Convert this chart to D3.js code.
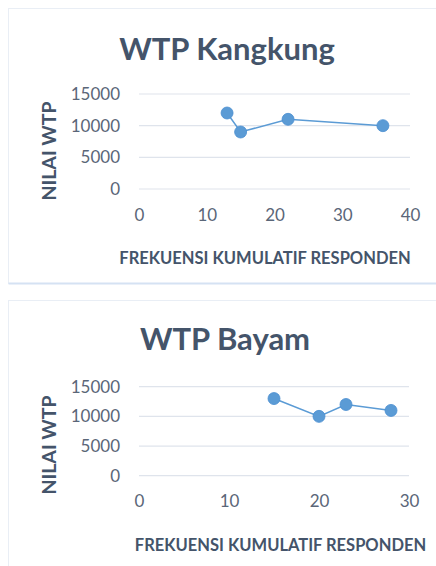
<!DOCTYPE html>
<html><head><meta charset="utf-8">
<script src="https://cdn.jsdelivr.net/npm/d3@7"></script>
<style>html,body{margin:0;padding:0;background:#fff;}</style>
</head><body>
<svg id="c" width="436" height="566"></svg>
<script>
const kangkungX = [13, 15, 22, 36];
const kangkungY = [12000, 9000, 11000, 10000];
const bayamX = [15, 20, 23, 28];
const bayamY = [13000, 10000, 12000, 11000];
const yTicks = [0, 5000, 10000, 15000];
const kangkungXTicks = [0, 10, 20, 30, 40];
const bayamXTicks = [0, 10, 20, 30];
const titles = ["WTP Kangkung", "WTP Bayam"];
const yTitle = "NILAI WTP";
const xTitle = "FREKUENSI KUMULATIF RESPONDEN";

const svg = d3.select("#c");
const textCol = "#44546a", tickCol = "#5a6678", lineCol = "#5b9bd5", gridCol = "#dfe4ec";
const font = "Lato, 'Open Sans', sans-serif";

function panel(cfg){
  const g = svg.append("g");
  g.append("rect").attr("x", cfg.fx).attr("y", cfg.fy).attr("width", cfg.fw).attr("height", cfg.fh)
    .attr("fill", "none").attr("stroke", "#e9eef5").attr("stroke-width", 1);
  if (cfg.bottomLine) g.append("line").attr("x1", cfg.fx).attr("x2", cfg.fx + cfg.fw).attr("y1", cfg.fy + cfg.fh).attr("y2", cfg.fy + cfg.fh)
    .attr("stroke", "#d5e2f3").attr("stroke-width", 2);
  const x = d3.scaleLinear().domain(cfg.xDomain).range([139, cfg.xRight]);
  const y = d3.scaleLinear().domain([0, 15000]).range([cfg.y0, cfg.y15]);
  g.selectAll(".grid").data(yTicks).join("line")
    .attr("x1", x.range()[0]).attr("x2", x.range()[1])
    .attr("y1", d => y(d)).attr("y2", d => y(d))
    .attr("stroke", gridCol).attr("stroke-width", 1.2);
  const ya = d3.axisLeft(y).tickValues(yTicks).tickFormat(d3.format("d")).tickSize(0).tickPadding(19);
  const yg = g.append("g").attr("transform", `translate(139,0)`).call(ya);
  yg.select(".domain").remove();
  yg.selectAll("text").attr("font-family", font).attr("font-size", 17).attr("fill", tickCol);
  const xa = d3.axisBottom(x).tickValues(cfg.xTicks).tickFormat(d3.format("d")).tickSize(0).tickPadding(cfg.xPad);
  const xg = g.append("g").attr("transform", `translate(0,${cfg.y0})`).call(xa);
  xg.select(".domain").remove();
  xg.selectAll("text").attr("font-family", font).attr("font-size", 17).attr("fill", tickCol);
  const pts = cfg.xs.map((v, i) => [v, cfg.ys[i]]);
  g.append("path").datum(pts)
    .attr("d", d3.line().x(d => x(d[0])).y(d => y(d[1])))
    .attr("fill", "none").attr("stroke", lineCol).attr("stroke-width", 1.5);
  g.selectAll(".pt").data(pts).join("circle")
    .attr("cx", d => x(d[0])).attr("cy", d => y(d[1])).attr("r", 6)
    .attr("fill", lineCol).attr("stroke", "#4a8ed0").attr("stroke-width", 0.8);
  g.append("text").attr("x", cfg.tx).attr("y", cfg.ty).attr("text-anchor", "middle")
    .attr("font-family", font).attr("font-weight", "bold").attr("font-size", 31).attr("fill", textCol)
    .text(cfg.title);
  g.append("text").attr("transform", `translate(${56},${cfg.ylc}) rotate(-90)`).attr("text-anchor", "middle")
    .attr("font-family", font).attr("font-weight", "bold").attr("font-size", 19.5).attr("fill", textCol)
    .text(yTitle);
  g.append("text").attr("x", cfg.xlx).attr("y", cfg.xly).attr("text-anchor", "middle")
    .attr("font-family", font).attr("font-weight", "bold").attr("font-size", 16.5).attr("fill", textCol)
    .text(xTitle);
}

panel({fx: 8.5, fy: 8.5, fw: 440, fh: 275, bottomLine: true,
  xDomain: [0, 40], xRight: 410, xTicks: kangkungXTicks, y0: 189, y15: 94, xPad: 20,
  xs: kangkungX, ys: kangkungY, title: titles[0], tx: 227, ty: 60, ylc: 151, xlx: 265, xly: 264});
panel({fx: 8.5, fy: 300.5, fw: 440, fh: 300, bottomLine: false,
  xDomain: [0, 30], xRight: 409, xTicks: bayamXTicks, y0: 475.7, y15: 386.7, xPad: 19,
  xs: bayamX, ys: bayamY, title: titles[1], tx: 225, ty: 350, ylc: 445, xlx: 280.5, xly: 551});
</script>
</body></html>
